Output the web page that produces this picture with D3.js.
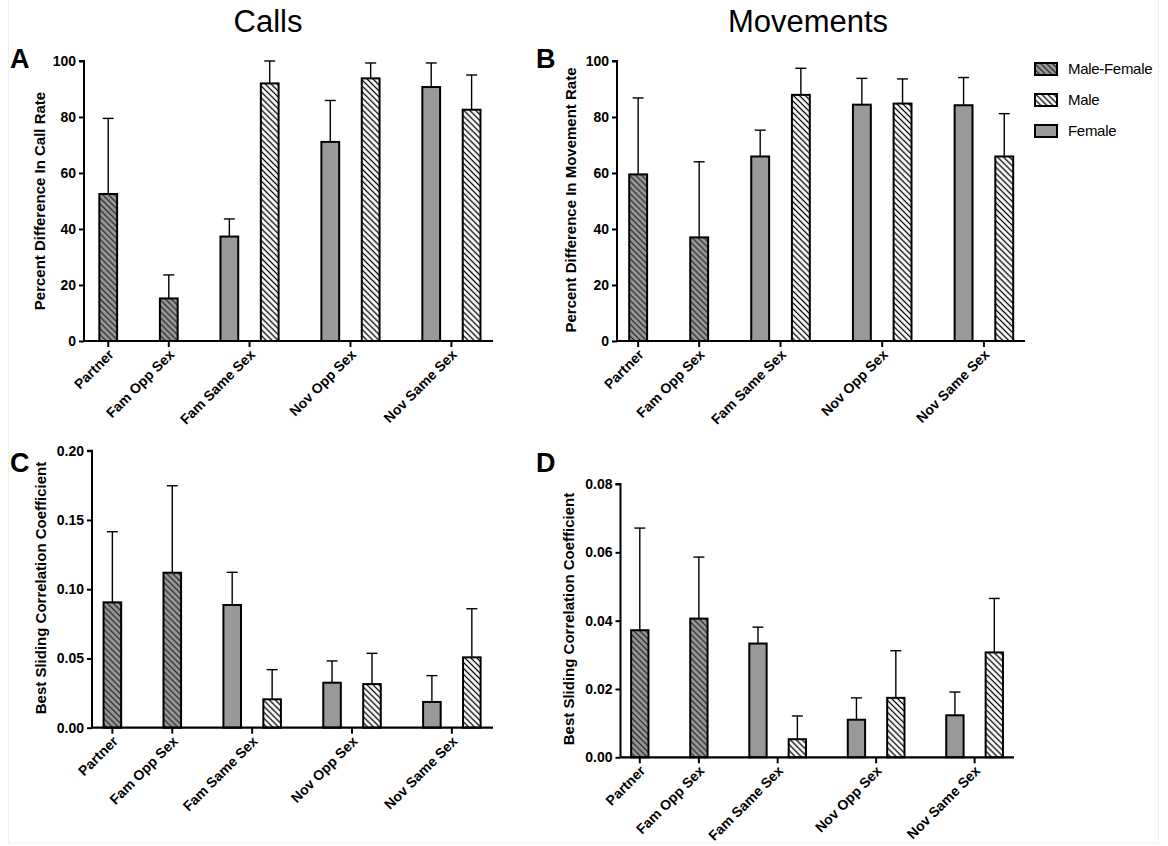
<!DOCTYPE html>
<html>
<head>
<meta charset="utf-8">
<script src="https://cdn.jsdelivr.net/npm/d3@7"></script>
<style>
  html, body { margin: 0; padding: 0; background: #fff; }
  svg { display: block; }
  text { font-family: "Liberation Sans", Arial, sans-serif; }
</style>
</head>
<body>
<svg id="chart" width="1168" height="846"></svg>
<script>
// ---------------- DATA ----------------
const categories = ["Partner", "Fam Opp Sex", "Fam Same Sex", "Nov Opp Sex", "Nov Same Sex"];
const seriesNames = ["Male-Female", "Male", "Female"];
// which series appear in each category (in drawing order)
const categorySeries = [["Male-Female"], ["Male-Female"], ["Female", "Male"], ["Female", "Male"], ["Female", "Male"]];

// Panel A: Percent Difference In Call Rate (mean, SEM)
const callMaleFemale = [52.5, 15.2, null, null, null];
const callMaleFemaleErr = [27.0, 8.4, null, null, null];
const callMale = [null, null, 92.0, 93.8, 82.6];
const callMaleErr = [null, null, 8.0, 5.5, 12.4];
const callFemale = [null, null, 37.3, 71.1, 90.7];
const callFemaleErr = [null, null, 6.3, 14.8, 8.6];

// Panel B: Percent Difference In Movement Rate
const moveMaleFemale = [59.5, 37.0, null, null, null];
const moveMaleFemaleErr = [27.3, 27.0, null, null, null];
const moveMale = [null, null, 87.9, 84.8, 65.9];
const moveMaleErr = [null, null, 9.5, 8.8, 15.3];
const moveFemale = [null, null, 65.9, 84.4, 84.2];
const moveFemaleErr = [null, null, 9.4, 9.4, 9.9];

// Panel C: Best Sliding Correlation Coefficient (calls)
const callCorrMaleFemale = [0.0905, 0.1119, null, null, null];
const callCorrMaleFemaleErr = [0.0510, 0.0628, null, null, null];
const callCorrMale = [null, null, 0.0205, 0.0315, 0.0508];
const callCorrMaleErr = [null, null, 0.0214, 0.0222, 0.0351];
const callCorrFemale = [null, null, 0.0886, 0.0325, 0.0186];
const callCorrFemaleErr = [null, null, 0.0236, 0.0157, 0.0190];

// Panel D: Best Sliding Correlation Coefficient (movements)
const moveCorrMaleFemale = [0.0372, 0.0406, null, null, null];
const moveCorrMaleFemaleErr = [0.0299, 0.0180, null, null, null];
const moveCorrMale = [null, null, 0.0053, 0.0174, 0.0307];
const moveCorrMaleErr = [null, null, 0.0068, 0.0138, 0.0158];
const moveCorrFemale = [null, null, 0.0333, 0.0110, 0.0123];
const moveCorrFemaleErr = [null, null, 0.0048, 0.0064, 0.0068];

const pctTicks = [0, 20, 40, 60, 80, 100];
const corrTicksC = [0, 0.05, 0.10, 0.15, 0.20];
const corrTicksD = [0, 0.02, 0.04, 0.06, 0.08];

const columnTitles = ["Calls", "Movements"];

// ---------------- DRAW ----------------
const svg = d3.select("#chart");
const FONT = '"Liberation Sans", Arial, sans-serif';

// faint frame
svg.append("rect").attr("x", 8.5).attr("y", -2).attr("width", 1150).attr("height", 845)
  .attr("fill", "none").attr("stroke", "#f0f0f0").attr("stroke-width", 1);

// patterns
const defs = svg.append("defs");
function hatch(id, bg, lineColor) {
  const p = defs.append("pattern").attr("id", id)
    .attr("patternUnits", "userSpaceOnUse")
    .attr("width", 8).attr("height", 4.2)
    .attr("patternTransform", "rotate(45)");
  p.append("rect").attr("width", 8).attr("height", 4.2).attr("fill", bg);
  p.append("line").attr("x1", 0).attr("x2", 8).attr("y1", 2.1).attr("y2", 2.1)
    .attr("stroke", lineColor).attr("stroke-width", 1.3);
}
hatch("hatchMF", "#999999", "#2a2a2a");
hatch("hatchM", "#ffffff", "#000000");
const fillFor = { "Male-Female": "url(#hatchMF)", "Male": "url(#hatchM)", "Female": "#999999" };

// positions (in bar units) of each bar, computed from category structure
function barLayout() {
  const out = [];
  let pos = 0;
  categorySeries.forEach((ser, ci) => {
    if (ci > 0) pos += 1.5;
    const start = pos;
    ser.forEach((s, si) => {
      if (si > 0) pos += 1;
      out.push({ cat: ci, series: s, pos: pos });
    });
    out.push({ tick: true, cat: ci, pos: (start + pos) / 2 });
  });
  return out;
}
const layout = barLayout();

function drawPanel(cfg) {
  const g = svg.append("g");
  const x = d3.scaleLinear().domain(cfg.xDomain).range(cfg.xRange);
  const y = d3.scaleLinear().domain(cfg.yDomain).range(cfg.yRange);
  const y0 = y(0);
  const barW = x(0.44) - x(0);

  const valueOf = { "Male-Female": cfg.mf, "Male": cfg.m, "Female": cfg.f };
  const errOf = { "Male-Female": cfg.mfErr, "Male": cfg.mErr, "Female": cfg.fErr };

  const bars = layout.filter(d => !d.tick).map(d => ({
    ...d, value: valueOf[d.series][d.cat], err: errOf[d.series][d.cat]
  }));

  // error bars (upper only)
  const eb = g.append("g");
  bars.forEach(d => {
    const cx = x(d.pos);
    const top = y(d.value + d.err);
    eb.append("line").attr("x1", cx).attr("x2", cx).attr("y1", y(d.value)).attr("y2", top)
      .attr("stroke", "#000").attr("stroke-width", 1.4);
    eb.append("line").attr("x1", cx - 5.5).attr("x2", cx + 5.5).attr("y1", top).attr("y2", top)
      .attr("stroke", "#000").attr("stroke-width", 1.4);
  });

  // bars
  g.append("g").selectAll("rect").data(bars).join("rect")
    .attr("x", d => x(d.pos) - barW / 2)
    .attr("y", d => y(d.value))
    .attr("width", barW)
    .attr("height", d => y0 - y(d.value))
    .attr("fill", d => fillFor[d.series])
    .attr("stroke", "#000")
    .attr("stroke-width", 2);

  // y axis
  const yAxis = d3.axisLeft(y).tickValues(cfg.yTicks).tickFormat(cfg.yFormat).tickSize(5).tickPadding(3);
  const ya = g.append("g").attr("transform", `translate(${cfg.xRange[0]},0)`).call(yAxis);
  ya.select(".domain").attr("stroke-width", 2).attr("d", `M-5,${y(cfg.yDomain[1])}H0V${y0}`);
  ya.selectAll(".tick line").attr("stroke-width", 2);
  ya.selectAll(".tick text").attr("font-family", FONT).attr("font-size", 14)
    .attr("font-weight", "bold").attr("fill", "#000");

  // x axis
  const ticks = layout.filter(d => d.tick);
  const xa = g.append("g");
  xa.append("line").attr("x1", cfg.xRange[0]).attr("x2", cfg.xRange[1]).attr("y1", y0).attr("y2", y0)
    .attr("stroke", "#000").attr("stroke-width", 2.2);
  xa.selectAll("line.tk").data(ticks).join("line").attr("class", "tk")
    .attr("x1", d => x(d.pos)).attr("x2", d => x(d.pos))
    .attr("y1", y0).attr("y2", y0 + 6)
    .attr("stroke", "#000").attr("stroke-width", 2);
  xa.selectAll("text").data(ticks).join("text")
    .attr("transform", d => `translate(${x(d.pos) - 1},${y0 + 7}) rotate(-45)`)
    .attr("dy", "0.75em")
    .attr("text-anchor", "end")
    .attr("font-family", FONT).attr("font-size", 14).attr("font-weight", "bold")
    .text(d => categories[d.cat]);

  // y label
  g.append("text")
    .attr("transform", `translate(${cfg.labelX},${cfg.labelY}) rotate(-90)`)
    .attr("text-anchor", "middle").attr("dy", "0.35em")
    .attr("font-family", FONT).attr("font-size", 15).attr("font-weight", "bold")
    .text(cfg.yLabel);

  // panel letter
  g.append("text").attr("x", cfg.letterX).attr("y", cfg.letterY)
    .attr("font-family", FONT).attr("font-size", 27).attr("font-weight", "bold")
    .text(cfg.letter);
}

drawPanel({
  letter: "A", letterX: 10, letterY: 68,
  xDomain: [-0.6, 9.53], xRange: [84, 493],
  yDomain: [0, 100], yRange: [341, 61], yTicks: pctTicks, yFormat: d3.format("d"),
  mf: callMaleFemale, mfErr: callMaleFemaleErr, m: callMale, mErr: callMaleErr, f: callFemale, fErr: callFemaleErr,
  yLabel: "Percent Difference In Call Rate", labelX: 40, labelY: 201
});
drawPanel({
  letter: "B", letterX: 536, letterY: 68,
  xDomain: [-0.52, 9.51], xRange: [617, 1025],
  yDomain: [0, 100], yRange: [341, 61], yTicks: pctTicks, yFormat: d3.format("d"),
  mf: moveMaleFemale, mfErr: moveMaleFemaleErr, m: moveMale, mErr: moveMaleErr, f: moveFemale, fErr: moveFemaleErr,
  yLabel: "Percent Difference In Movement Rate", labelX: 571, labelY: 200
});
drawPanel({
  letter: "C", letterX: 10, letterY: 472,
  xDomain: [-0.51, 9.53], xRange: [92, 493],
  yDomain: [0, 0.20], yRange: [727.7, 450.7], yTicks: corrTicksC, yFormat: d3.format(".2f"),
  mf: callCorrMaleFemale, mfErr: callCorrMaleFemaleErr, m: callCorrMale, mErr: callCorrMaleErr, f: callCorrFemale, fErr: callCorrFemaleErr,
  yLabel: "Best Sliding Correlation Coefficient", labelX: 41, labelY: 588
});
drawPanel({
  letter: "D", letterX: 536, letterY: 472,
  xDomain: [-0.49, 9.5], xRange: [620.5, 1014],
  yDomain: [0, 0.08], yRange: [757.3, 484], yTicks: corrTicksD, yFormat: d3.format(".2f"),
  mf: moveCorrMaleFemale, mfErr: moveCorrMaleFemaleErr, m: moveCorrMale, mErr: moveCorrMaleErr, f: moveCorrFemale, fErr: moveCorrFemaleErr,
  yLabel: "Best Sliding Correlation Coefficient", labelX: 569, labelY: 619
});

// column titles
svg.append("text").attr("x", 268).attr("y", 32).attr("text-anchor", "middle")
  .attr("font-family", FONT).attr("font-size", 31).text(columnTitles[0]);
svg.append("text").attr("x", 808).attr("y", 32).attr("text-anchor", "middle")
  .attr("font-family", FONT).attr("font-size", 31).text(columnTitles[1]);

// legend
const legendY = [69, 100, 131];
const lg = svg.append("g");
seriesNames.forEach((s, i) => {
  lg.append("rect").attr("x", 1035).attr("y", legendY[i] - 6).attr("width", 22).attr("height", 12)
    .attr("fill", fillFor[s]).attr("stroke", "#000").attr("stroke-width", 2);
  lg.append("text").attr("x", 1068).attr("y", legendY[i]).attr("dy", "0.35em")
    .attr("font-family", FONT).attr("font-size", 15).attr("letter-spacing", -0.3).text(s);
});
</script>
</body>
</html>
